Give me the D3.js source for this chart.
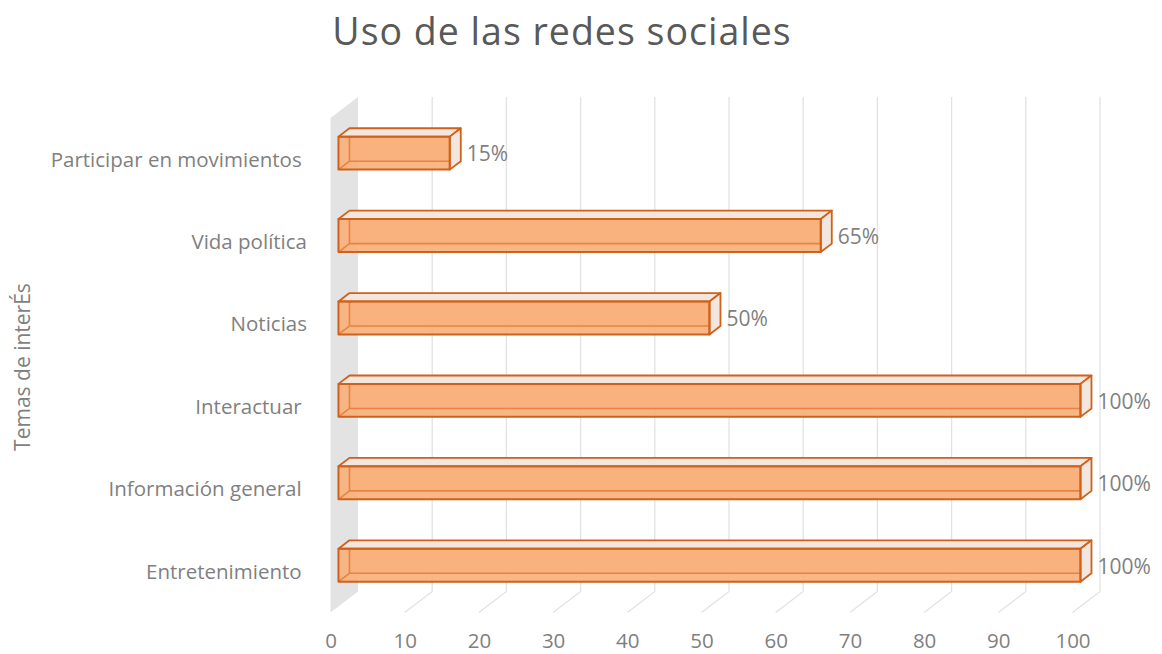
<!DOCTYPE html>
<html>
<head>
<meta charset="utf-8">
<script src="https://cdn.jsdelivr.net/npm/d3@7"></script>
<style>
  html, body { margin: 0; padding: 0; background: #fff; }
  svg { display: block; font-family: "Open Sans", "Noto Sans", sans-serif; }
</style>
</head>
<body>
<svg id="chart" width="1162" height="654"></svg>
<script>
// ---- data ----
const title = "Uso de las redes sociales";
const axisTitle = "Temas de interÉs";
const categories = ["Participar en movimientos ", "Vida política", "Noticias", "Interactuar ", "Información general ", "Entretenimiento "];
const values = [15, 65, 50, 100, 100, 100];
const dataLabels = ["15%", "65%", "50%", "100%", "100%", "100%"];
const tickValues = [0, 10, 20, 30, 40, 50, 60, 70, 80, 90, 100];

// ---- layout ----
const svg = d3.select("#chart");
const depth = [27.5, -21];           // front plane -> back plane offset
const zFront = 0.29, zBack = 0.69;   // bar depth range

const x = d3.scaleLinear().domain([0, 100]).range([330.5, 1072.5]);
const y = d3.scaleBand().domain(categories).range([118, 612.5])
  .paddingInner(0.6).paddingOuter(0.3);

const P = (v, yy, z) => [x(v) + z * depth[0], yy + z * depth[1]];
const poly = pts => "M" + pts.map(p => p.join(",")).join("L") + "Z";

// side wall
const yTop = y.range()[0], yBot = y.range()[1];
svg.append("path")
  .attr("d", poly([P(0, yTop, 0), P(0, yTop, 1), P(0, yBot, 1), P(0, yBot, 0)]))
  .attr("fill", "#e3e3e3");

// gridlines (back wall + floor)
const grid = svg.append("g").attr("fill", "none").attr("stroke", "#e2e2e2").attr("stroke-width", 1.3);
tickValues.filter(t => t > 0).forEach(t => {
  grid.append("path").attr("d", "M" + [P(t, yTop, 1), P(t, yBot, 1), P(t, yBot, 0)].map(p => p.join(",")).join("L"));
});

// tick labels (value axis)
const xAxis = d3.axisBottom(x).tickValues(tickValues).tickSize(0).tickPadding(0).tickFormat(d3.format("d"));
const gx = svg.append("g").attr("transform", "translate(0,648)").call(xAxis);
gx.select(".domain").remove();
gx.selectAll("text").attr("font-size", 20.5).attr("fill", "#7f7f7f").attr("font-family", "Open Sans").attr("dy", "0");

// category labels
const yAxis = d3.axisLeft(y).tickSize(0).tickPadding(0);
const gy = svg.append("g").attr("transform", "translate(307,0)").call(yAxis);
gy.select(".domain").remove();
gy.selectAll("text")
  .attr("font-size", 20.5).attr("fill", "#7f7f7f").attr("font-family", "Open Sans")
  .style("white-space", "pre")
  .attr("dy", "0.36em");
// center text on full band center (front plane)
gy.selectAll(".tick").attr("transform", d => "translate(0," + (y(d) + y.bandwidth() / 2) + ")");

// bars
const orange = "#f9b17d", edge = "#d0611a", inner = "#e8843f", pale = "#f2e6df";
const bars = svg.append("g").selectAll("g").data(categories).join("g");
bars.each(function(c, i) {
  const g = d3.select(this);
  const v = values[i];
  const y0 = y(c), y1 = y(c) + y.bandwidth();
  const f = z => [P(0, y0, z), P(v, y0, z), P(v, y1, z), P(0, y1, z)];
  const F = f(zFront), B = f(zBack);
  // back face
  g.append("path").attr("d", poly(B)).attr("fill", orange);
  // front face
  g.append("path").attr("d", poly(F)).attr("fill", orange).attr("fill-opacity", 0.92);
  // hidden back edges seen through
  g.append("path").attr("fill", "none").attr("stroke", inner).attr("stroke-width", 1.6)
    .attr("d", "M" + [B[0], B[3], B[2]].map(p => p.join(",")).join("L") + "M" + F[3].join(",") + "L" + B[3].join(","));
  // top face
  g.append("path").attr("d", poly([F[0], F[1], B[1], B[0]])).attr("fill", pale).attr("stroke", edge).attr("stroke-width", 1.8).attr("stroke-linejoin", "round");
  // right face
  g.append("path").attr("d", poly([F[1], B[1], B[2], F[2]])).attr("fill", pale).attr("stroke", edge).attr("stroke-width", 1.8).attr("stroke-linejoin", "round");
  // front outline
  g.append("path").attr("d", poly(F)).attr("fill", "none").attr("stroke", edge).attr("stroke-width", 2).attr("stroke-linejoin", "round");
  // data label
  const rc = P(v, (y0 + y1) / 2, zFront);
  g.append("text").attr("x", rc[0] + 17).attr("y", rc[1] + 1).attr("dy", "0.35em")
    .attr("font-size", 21).attr("fill", "#7f7f7f").text(dataLabels[i]);
});

// title
svg.append("text").attr("x", 562).attr("y", 45).attr("text-anchor", "middle")
  .attr("font-size", 37.5).attr("fill", "#595959").attr("letter-spacing", 1).text(title);

// axis title
svg.append("text").attr("transform", "translate(30,367) rotate(-90)").attr("text-anchor", "middle")
  .attr("font-size", 21).attr("fill", "#7f7f7f").text(axisTitle);
</script>
</body>
</html>
